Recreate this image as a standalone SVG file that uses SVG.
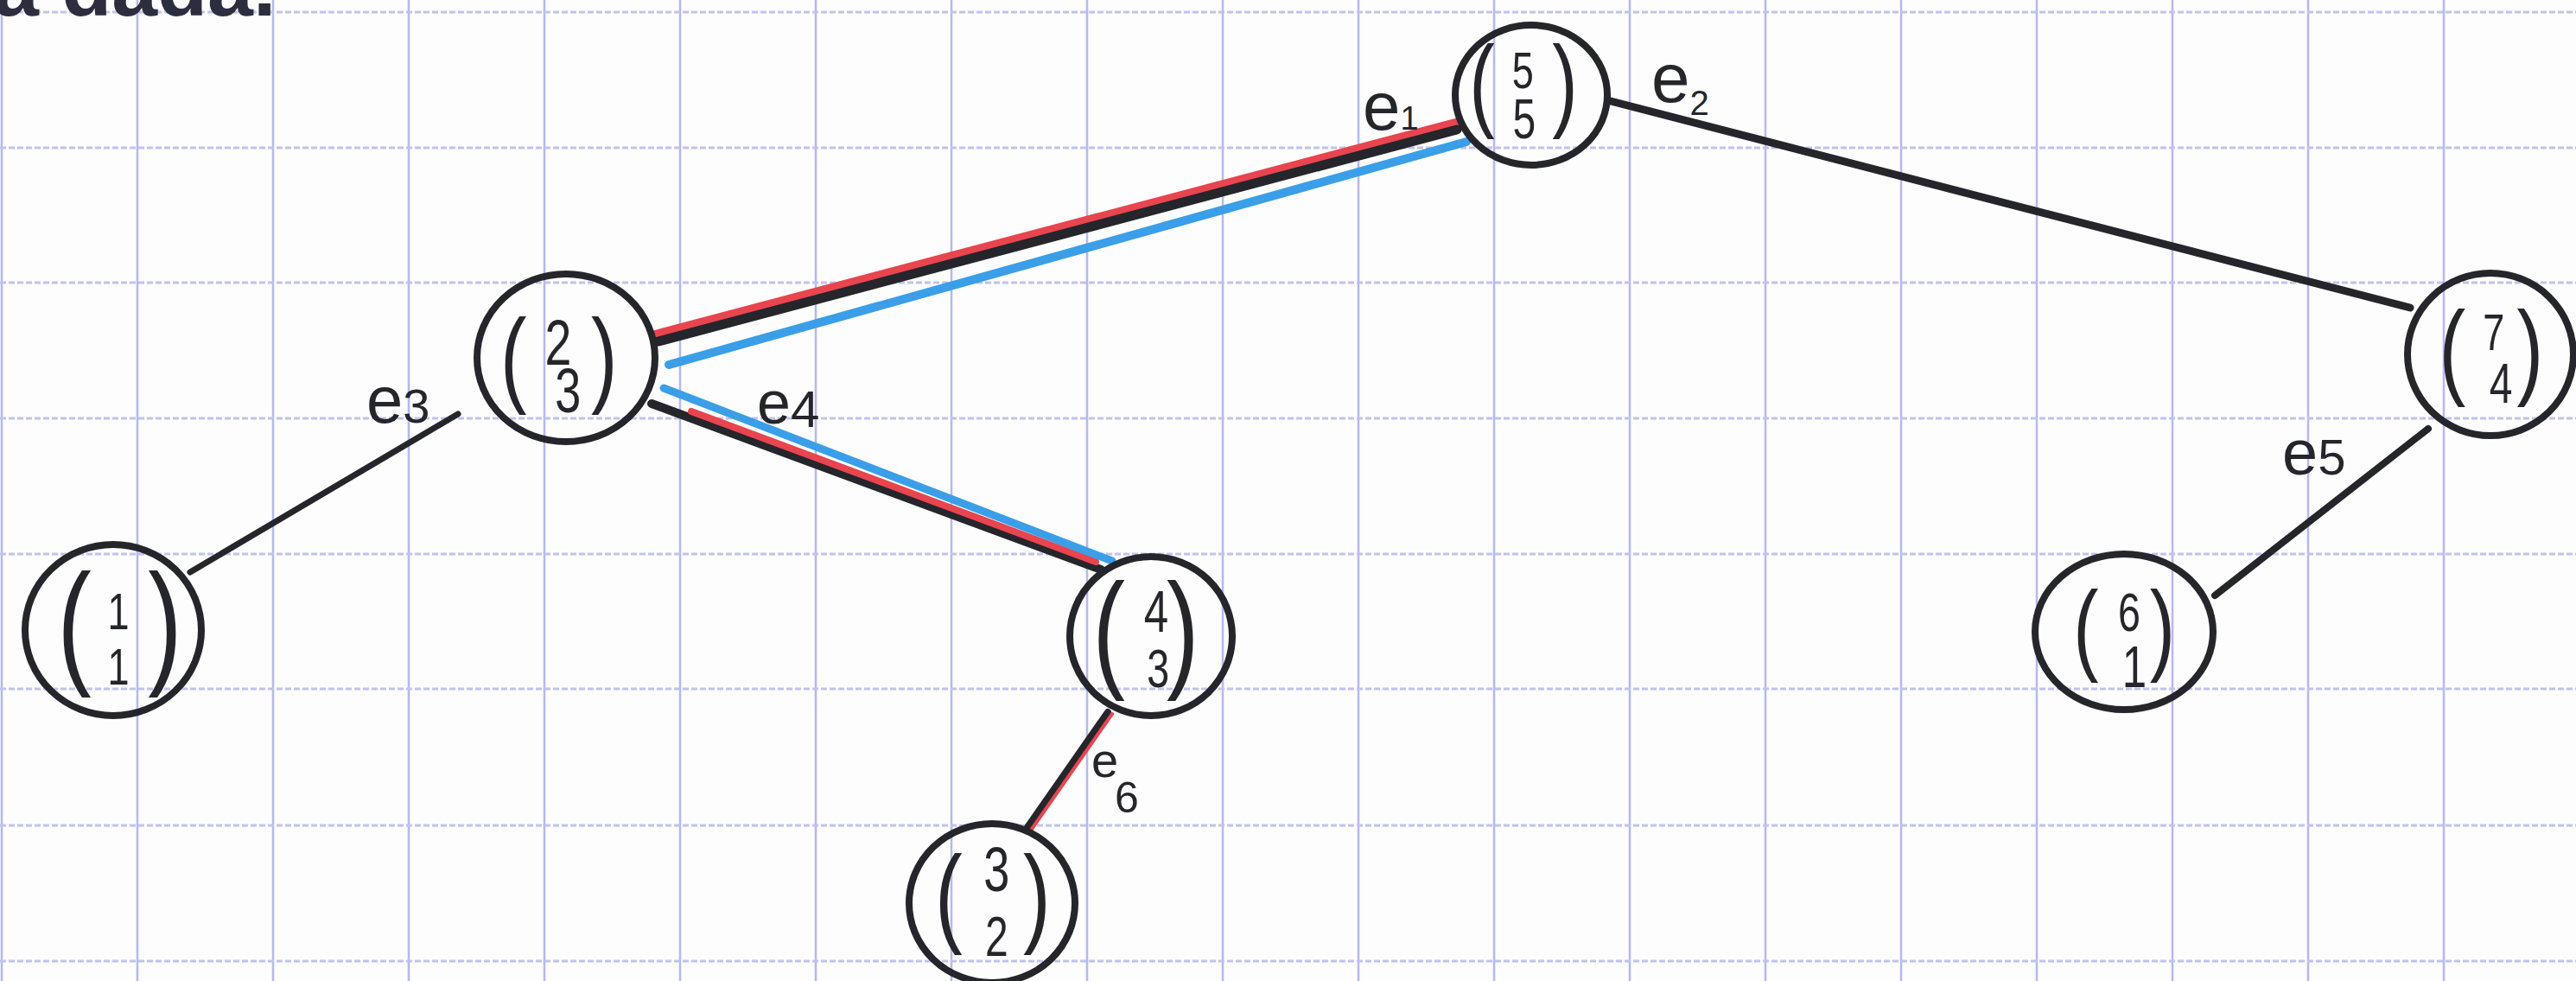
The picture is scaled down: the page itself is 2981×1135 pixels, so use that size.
<svg xmlns="http://www.w3.org/2000/svg" width="2981" height="1135" viewBox="0 0 2981 1135">
<style>
.vg{stroke:#b4b9f0;stroke-width:2.5}
.hg{stroke:#c0c3ee;stroke-width:3;stroke-dasharray:7 3}
.ink{stroke:#25252c;fill:none;stroke-linecap:round}
.red{stroke:#e8454f;fill:none;stroke-linecap:round}
.blue{stroke:#3a9fe8;fill:none;stroke-linecap:round}
.node ellipse{fill:none;stroke:#25252c;stroke-width:8}
.node text{font-family:"Liberation Sans",Arial,sans-serif;fill:#25252c;text-anchor:middle}
.lbl{font-family:"Liberation Sans",Arial,sans-serif;fill:#25252c}
.hw{font-family:"Liberation Sans",Arial,sans-serif;fill:#2b2e3e;font-weight:bold}
</style>
<rect width="2981" height="1135" fill="#fdfdfd"/>
<g id="grid">
<line class="vg" x1="2" y1="0" x2="2" y2="1135"/>
<line class="vg" x1="159" y1="0" x2="159" y2="1135"/>
<line class="vg" x1="316" y1="0" x2="316" y2="1135"/>
<line class="vg" x1="473" y1="0" x2="473" y2="1135"/>
<line class="vg" x1="630" y1="0" x2="630" y2="1135"/>
<line class="vg" x1="787" y1="0" x2="787" y2="1135"/>
<line class="vg" x1="944" y1="0" x2="944" y2="1135"/>
<line class="vg" x1="1101" y1="0" x2="1101" y2="1135"/>
<line class="vg" x1="1258" y1="0" x2="1258" y2="1135"/>
<line class="vg" x1="1415" y1="0" x2="1415" y2="1135"/>
<line class="vg" x1="1572" y1="0" x2="1572" y2="1135"/>
<line class="vg" x1="1729" y1="0" x2="1729" y2="1135"/>
<line class="vg" x1="1886" y1="0" x2="1886" y2="1135"/>
<line class="vg" x1="2043" y1="0" x2="2043" y2="1135"/>
<line class="vg" x1="2200" y1="0" x2="2200" y2="1135"/>
<line class="vg" x1="2357" y1="0" x2="2357" y2="1135"/>
<line class="vg" x1="2514" y1="0" x2="2514" y2="1135"/>
<line class="vg" x1="2671" y1="0" x2="2671" y2="1135"/>
<line class="vg" x1="2828" y1="0" x2="2828" y2="1135"/>
<line class="hg" x1="0" y1="14" x2="2981" y2="14"/>
<line class="hg" x1="0" y1="171" x2="2981" y2="171"/>
<line class="hg" x1="0" y1="327" x2="2981" y2="327"/>
<line class="hg" x1="0" y1="484" x2="2981" y2="484"/>
<line class="hg" x1="0" y1="641" x2="2981" y2="641"/>
<line class="hg" x1="0" y1="797" x2="2981" y2="797"/>
<line class="hg" x1="0" y1="955" x2="2981" y2="955"/>
<line class="hg" x1="0" y1="1112" x2="2981" y2="1112"/>
</g>
<text class="hw" x="-8" y="18" font-size="95">a dada.</text>
<g id="connectors">
<g id="e1">
<line class="red" x1="758" y1="387" x2="1688" y2="141" stroke-width="10"/>
<line class="ink" x1="758" y1="396" x2="1686" y2="150" stroke-width="11"/>
<line class="blue" x1="774" y1="422" x2="1697" y2="164" stroke-width="10"/>
<text class="lbl" x="1577" y="150"><tspan font-size="78">e</tspan><tspan font-size="38">1</tspan></text>
</g>
<g id="e2">
<line class="ink" x1="1864" y1="117" x2="2789" y2="356" stroke-width="9"/>
<text class="lbl" x="1911" y="118"><tspan font-size="80">e</tspan><tspan font-size="40" y="133">2</tspan></text>
</g>
<g id="e3">
<line class="ink" x1="220" y1="662" x2="530" y2="479" stroke-width="7"/>
<text class="lbl" x="424" y="489"><tspan font-size="76">e</tspan><tspan font-size="56">3</tspan></text>
</g>
<g id="e4">
<line class="ink" x1="754" y1="467" x2="1274" y2="659" stroke-width="10"/>
<line class="red" x1="800" y1="476" x2="1268" y2="650" stroke-width="8"/>
<line class="blue" x1="768" y1="449" x2="1287" y2="649" stroke-width="9"/>
<text class="lbl" x="876" y="490"><tspan font-size="70">e</tspan><tspan font-size="60" y="494">4</tspan></text>
</g>
<g id="e5">
<line class="ink" x1="2810" y1="496" x2="2563" y2="689" stroke-width="8"/>
<text class="lbl" x="2641" y="549"><tspan font-size="74">e</tspan><tspan font-size="58">5</tspan></text>
</g>
<g id="e6">
<line class="ink" x1="1282" y1="824" x2="1187" y2="960" stroke-width="8"/>
<line class="red" x1="1287" y1="826" x2="1192" y2="962" stroke-width="4"/>
<text class="lbl"><tspan x="1263" y="899" font-size="56">e</tspan><tspan x="1290" y="940" font-size="50">6</tspan></text>
</g>
</g>
<g id="n55" class="node">
<ellipse cx="1772" cy="110" rx="88" ry="81"/>
<text transform="translate(1772 0) scale(0.75 1)"><tspan x="-76" y="136" font-size="118">(</tspan><tspan x="-13" y="102" font-size="60">5</tspan><tspan x="-11" y="160" font-size="64">5</tspan><tspan x="52" y="136" font-size="118">)</tspan></text>
</g>
<g id="n74" class="node">
<ellipse cx="2882" cy="410" rx="96" ry="94"/>
<text transform="translate(2882 0) scale(0.75 1)"><tspan x="-59" y="446" font-size="123">(</tspan><tspan x="5" y="405" font-size="60">7</tspan><tspan x="16" y="466" font-size="64">4</tspan><tspan x="61" y="446" font-size="123">)</tspan></text>
</g>
<g id="n23" class="node">
<ellipse cx="655" cy="414" rx="103" ry="97"/>
<text transform="translate(655 0) scale(0.75 1)"><tspan x="-81" y="455" font-size="122">(</tspan><tspan x="-12" y="422" font-size="74">2</tspan><tspan x="3" y="477" font-size="72">3</tspan><tspan x="59" y="455" font-size="122">)</tspan></text>
</g>
<g id="n11" class="node">
<ellipse cx="131" cy="729" rx="102" ry="99"/>
<text transform="translate(131 0) scale(0.75 1)"><tspan x="-60" y="774" font-size="158">(</tspan><tspan x="8" y="728" font-size="60">1</tspan><tspan x="8" y="792" font-size="60">1</tspan><tspan x="80" y="774" font-size="158">)</tspan></text>
</g>
<g id="n43" class="node">
<ellipse cx="1332" cy="736" rx="94" ry="92"/>
<text transform="translate(1332 0) scale(0.75 1)"><tspan x="-65" y="780" font-size="150">(</tspan><tspan x="8" y="731" font-size="68">4</tspan><tspan x="11" y="795" font-size="62">3</tspan><tspan x="49" y="780" font-size="150">)</tspan></text>
</g>
<g id="n32" class="node">
<ellipse cx="1148" cy="1045" rx="96" ry="92"/>
<text transform="translate(1148 0) scale(0.75 1)"><tspan x="-67" y="1079" font-size="127">(</tspan><tspan x="7" y="1031" font-size="72">3</tspan><tspan x="7" y="1106" font-size="64">2</tspan><tspan x="69" y="1079" font-size="127">)</tspan></text>
</g>
<g id="n61" class="node">
<ellipse cx="2458" cy="731" rx="103" ry="90"/>
<text transform="translate(2458 0) scale(0.75 1)"><tspan x="-59" y="766" font-size="117">(</tspan><tspan x="8" y="730" font-size="62">6</tspan><tspan x="16" y="795" font-size="68">1</tspan><tspan x="59" y="766" font-size="117">)</tspan></text>
</g>
</svg>
